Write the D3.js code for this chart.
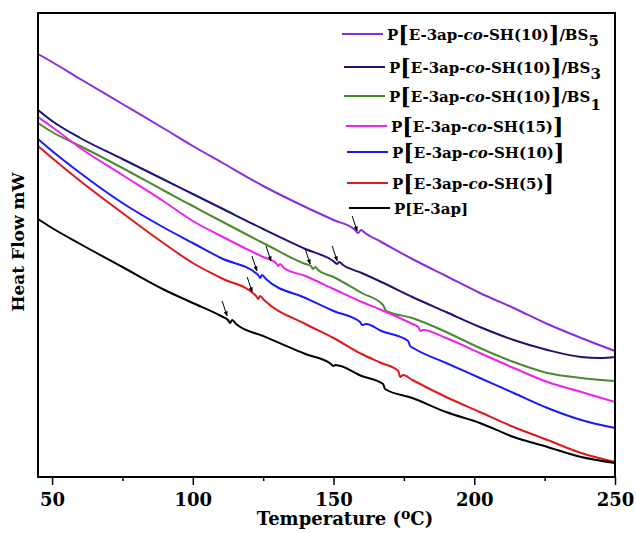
<!DOCTYPE html>
<html><head><meta charset="utf-8">
<script src="https://cdn.jsdelivr.net/npm/d3@7"></script>
<style>body{margin:0;background:#fff}svg{display:block}</style>
</head><body><svg id="c" width="636" height="533"></svg>
<script>
// ---- data (temperature °C, heat flow, arbitrary offset units) ----
const xTicks = [50, 100, 150, 200, 250];
const xMinorTicks = [75, 125, 175, 225];
const xDomain = [45, 250];
const yDomain = [0, 46.4];

const bs5 = [[45,42.3],[50,41.5],[60,39.8],[75,37.3],[90,34.8],[100,33.1],[110,31.5],[125,29.1],[140,27.0],[150,25.7],[157.7,24.7],[158.7,24.4],[159.8,24.7],[161.2,24.4],[167,23.5],[178,21.8],[190,20.1],[202,18.4],[214,16.9],[226,15.3],[238,13.9],[250,12.6]];
const bs3 = [[45,36.7],[50,35.6],[60,33.9],[75,31.8],[90,29.7],[100,28.3],[110,26.9],[125,24.8],[140,22.8],[149.9,21.6],[151.3,21.3],[152.0,21.5],[153.4,21.2],[160,20.4],[167,19.5],[178,18.0],[190,16.5],[202,15.0],[214,13.7],[226,12.7],[238,12.0],[244.7,11.9],[250,12.0]];
const bs1 = [[45,35.4],[50,34.5],[60,33.1],[75,30.9],[90,28.6],[100,27.1],[110,25.6],[125,23.4],[140,21.3],[142.0,21.1],[142.7,20.8],[143.5,21.0],[144.5,20.7],[150,20.0],[160,18.4],[167.6,17.2],[168.7,16.6],[178,15.9],[190,14.5],[202,12.9],[214,11.5],[226,10.4],[238,9.9],[250,9.6]];
const sh15 = [[45,36.0],[50,35.0],[60,32.9],[75,30.2],[90,27.5],[100,25.6],[110,24.1],[125,22.0],[129.6,21.4],[130.3,21.1],[131.0,21.3],[132.4,20.9],[140,20.1],[150,18.8],[160,17.5],[167,16.7],[178,15.3],[180.1,15.0],[180.8,14.6],[181.8,14.7],[190,13.9],[202,12.4],[214,10.9],[226,9.5],[238,8.5],[250,7.5]];
const sh10 = [[45,33.8],[50,32.6],[60,30.4],[75,27.4],[90,24.9],[100,23.4],[110,21.9],[123.2,20.2],[123.9,19.9],[124.6,20.2],[126.0,19.8],[140,17.9],[150,16.6],[159.4,15.5],[160.2,15.2],[161.6,15.3],[167,14.6],[176.5,13.6],[177.2,13.1],[178.3,12.9],[190,11.4],[202,9.9],[214,8.4],[226,6.9],[238,5.7],[250,4.9]];
const sh5 = [[45,33.1],[50,31.9],[60,29.6],[75,26.4],[90,23.3],[100,21.4],[110,19.9],[122.5,18.1],[123.2,17.8],[123.9,18.1],[125.3,17.7],[140,15.3],[150,13.9],[160,12.3],[167,11.4],[173.0,10.6],[173.7,10.0],[174.7,10.2],[178,9.7],[190,8.0],[202,6.5],[214,5.0],[226,3.7],[238,2.4],[250,1.5]];
const e3ap = [[45,25.8],[50,24.9],[60,23.3],[75,21.0],[90,18.7],[100,17.4],[110,16.1],[112.5,15.7],[113.2,15.4],[114.0,15.7],[115.4,15.3],[125,14.1],[140,12.3],[149.1,11.3],[149.9,11.1],[150.6,11.2],[160,10.1],[167.6,9.3],[168.3,8.8],[178,7.9],[190,6.5],[202,5.4],[214,4.0],[226,3.0],[238,2.0],[250,1.4]];

const seriesData = [bs5, bs3, bs1, sh15, sh10, sh5, e3ap];
const seriesColors = ["#8a2be2", "#16167a", "#4b8a2e", "#ee22ee", "#1a1aff", "#e01818", "#000000"];
const legendSH = ["10", "10", "10", "15", "10", "5", null];
const legendBS = ["5", "3", "1", null, null, null, null];
// glass-transition arrow tips [temperature, heat flow]
const arrowTips = [[158.4,24.6],[151.3,21.6],[141.7,21.3],[127.8,21.6],[122.8,20.6],[121.1,18.5],[112.2,16.1]];

// ---- layout ----
const M = {left: 38, right: 615, top: 13, bottom: 477};
const svg = d3.select("#c");
const x = d3.scaleLinear().domain(xDomain).range([M.left, M.right]);
const y = d3.scaleLinear().domain(yDomain).range([M.bottom, M.top]);
const FONT = "'DejaVu Serif', serif";

// axis ticks
const xAxis = d3.axisBottom(x).tickValues(xTicks).tickSize(8).tickFormat(d3.format("d"));
const gx = svg.append("g").attr("transform", `translate(0,${M.bottom})`).call(xAxis);
gx.select(".domain").remove();
gx.selectAll(".tick line").attr("stroke", "#000").attr("stroke-width", 1.5);
gx.selectAll(".tick text").attr("font-family", FONT).attr("font-weight", "bold")
  .attr("font-size", 18).attr("fill", "#000").attr("dy", "1.0em");
const gxm = svg.append("g").attr("transform", `translate(0,${M.bottom})`)
  .call(d3.axisBottom(x).tickValues(xMinorTicks).tickSize(4).tickFormat(""));
gxm.select(".domain").remove();
gxm.selectAll(".tick line").attr("stroke", "#000").attr("stroke-width", 1.5);

// lines
const line = d3.line().x(d => x(d[0])).y(d => y(d[1])).curve(d3.curveMonotoneX);
svg.append("g").selectAll("path").data(seriesData).join("path")
  .attr("d", line).attr("fill", "none")
  .attr("stroke", (d, i) => seriesColors[i]).attr("stroke-width", 2);

// arrows
svg.append("defs").append("marker").attr("id", "ah").attr("viewBox", "0 0 10 10")
  .attr("refX", 9).attr("refY", 5).attr("markerWidth", 5).attr("markerHeight", 5)
  .attr("orient", "auto").append("path").attr("d", "M0,1 L10,5 L0,9 z").attr("fill", "#000");
svg.append("g").selectAll("line").data(arrowTips).join("line")
  .attr("x1", d => x(d[0]) - 5).attr("y1", d => y(d[1]) - 15)
  .attr("x2", d => x(d[0])).attr("y2", d => y(d[1]))
  .attr("stroke", "#000").attr("stroke-width", 1).attr("marker-end", "url(#ah)");

// frame
svg.append("rect").attr("x", M.left).attr("y", M.top)
  .attr("width", M.right - M.left).attr("height", M.bottom - M.top)
  .attr("fill", "none").attr("stroke", "#000").attr("stroke-width", 2);

// legend
const legY = [34, 67, 96, 126, 152, 183, 208];
const legX = [342, 344, 344, 346, 347, 347, 349];
const lg = svg.append("g");
seriesColors.forEach((c, i) => {
  lg.append("line").attr("x1", legX[i]).attr("x2", legX[i] + 41)
    .attr("y1", legY[i]).attr("y2", legY[i]).attr("stroke", c).attr("stroke-width", 2);
  const t = lg.append("text").attr("x", legX[i] + 45).attr("y", legY[i] + 6)
    .attr("font-family", FONT).attr("font-weight", "bold").attr("font-size", 15).attr("fill", "#000");
  if (legendSH[i]) {
    t.append("tspan").text("P");
    t.append("tspan").attr("font-size", 22).attr("dy", 2).text("[");
    t.append("tspan").attr("dy", -2).text("E-3ap-");
    t.append("tspan").attr("font-style", "italic").text("co");
    t.append("tspan").text("-SH(" + legendSH[i] + ")");
    t.append("tspan").attr("font-size", 22).attr("dy", 2).text("]");
    if (legendBS[i]) {
      t.append("tspan").attr("dy", -2).text("/BS");
      t.append("tspan").attr("dy", legendBS[i] === "1" ? 8 : 6).text(legendBS[i]);
    }
  } else {
    t.append("tspan").text("P[E-3ap]");
  }
});

// axis titles
const xt = svg.append("text").attr("x", 345).attr("y", 525).attr("text-anchor", "middle")
  .attr("font-family", FONT).attr("font-weight", "bold").attr("font-size", 18);
xt.append("tspan").text("Temperature (");
xt.append("tspan").attr("font-size", 14).attr("dy", -6).text("o");
xt.append("tspan").attr("dy", 6).text("C)");
svg.append("text").attr("transform", "translate(24,242) rotate(-90)").attr("text-anchor", "middle")
  .attr("font-family", FONT).attr("font-weight", "bold").attr("font-size", 17).text("Heat Flow mW");
</script></body></html>
